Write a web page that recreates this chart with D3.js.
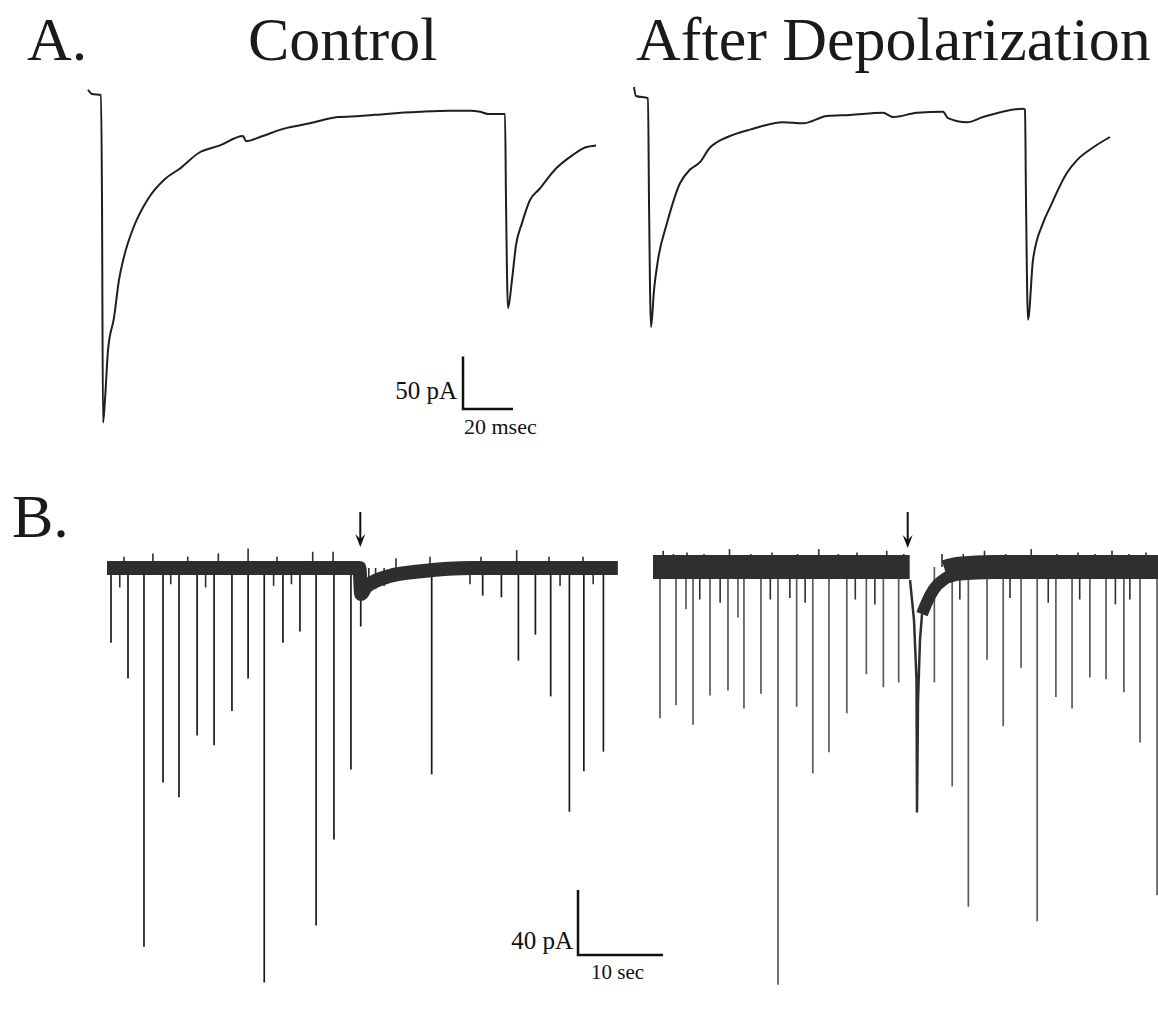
<!DOCTYPE html>
<html><head><meta charset="utf-8">
<script src="https://cdn.jsdelivr.net/npm/d3@7"></script>
<style>html,body{margin:0;padding:0;background:#fff;}svg{display:block;}</style>
</head><body>
<svg id="fig" width="1158" height="1013"></svg>
<script>
// ---------- DATA ----------
// Panel A: evoked currents (time in ms, current in pA relative to holding)
const ctrlA = [[0,5],[1.6,1],[5.2,0],[5.6,-100],[6.0,-312],[6.8,-290],[8,-243],[10.4,-212],[12.4,-176],[14.4,-154],[18.4,-125],[24,-99],[30.8,-80],[36.8,-70],[44.4,-55],[52.8,-48],[62,-39],[63.2,-44],[68.8,-40],[78.4,-32],[88.8,-27],[100,-21],[108.8,-20],[119.2,-18],[132.8,-16],[144.8,-15],[153.2,-15],[156.8,-16],[160,-18],[162.8,-18],[166.8,-18],[167.2,-100],[168,-203],[169.6,-176],[171.2,-143],[173.6,-122],[176.8,-100],[180.4,-90],[187.2,-70],[194,-57],[198.8,-50],[203.2,-48]];
const depA = [[0,7.6],[0.8,-1],[5.6,-3],[6,-100],[6.8,-221],[8,-186],[9.6,-157],[13.2,-122],[18.4,-84],[22.4,-71],[26.4,-64],[30.4,-50],[33.2,-45],[39.6,-38],[46.4,-33],[59.6,-26],[67.6,-27],[77.2,-20],[86.4,-19],[99.6,-17],[103.6,-21],[113.2,-17],[123.6,-16],[125.6,-22],[133.2,-26],[139.6,-21],[155.6,-13],[156.4,-14],[156.8,-100],[157.6,-214],[159.6,-157],[163.6,-122],[166.4,-107],[173.2,-74],[177.2,-62],[183.6,-50],[190.4,-40]];

// Panel B: spontaneous events (time in s, peak current in pA)
const ctrlB_baseline = [[0,0],[29.7,0],[29.9,-16],[30.4,-12],[31.2,-9],[33.2,-5],[37,-2],[43,0],[60.1,0]];
const ctrlB_events = [[0.47,-46],[2.47,-68],[4.35,-233],[6.59,-132],[8.47,-141],[10.6,-103],[12.6,-109],[14.7,-88],[16.6,-68],[18.5,-255],[20.7,-46],[22.7,-39],[24.6,-220],[26.7,-167],[28.7,-124],[29.85,-36],[38.2,-127],[44.2,-17],[46.4,-18],[48.4,-57],[50.4,-41],[52.2,-79],[54.4,-150],[56.1,-125],[58.4,-113]];
const ctrlB_noiseUp = [[2,7],[5.4,9],[9.5,7],[13.1,9],[16.6,12],[20,7],[24.2,10],[26.6,10],[34,6],[38,7],[44,7],[48.2,11],[52,7],[56,7]];
const ctrlB_noiseDown = [[1.5,-12],[7.5,-10],[11.6,-12],[19.6,-11],[21.7,-10],[30.8,-16],[31.6,-13],[32.6,-11],[42.7,-10],[53.3,-11],[57.2,-10]];

const depB_baseline1 = [[0,0],[30.2,0]];
const depB_dip = [[30.24,-8],[30.71,-33],[31.0,-69],[31.06,-151],[31.18,-82],[31.41,-45],[31.65,-29]];
const depB_recovery = [[31.65,-29],[32.2,-22],[33.0,-14],[34.4,-7],[36,-3]];
const depB_baseline2 = [[34.4,-3],[36,-1],[40,0],[60.5,0]];
const depB_events = [[0.82,-93],[2.71,-85],[3.88,-26],[4.71,-97],[6.71,-79],[8.82,-76],[10.0,-31],[10.7,-87],[12.7,-78],[14.7,-257],[16.9,-86],[18.8,-127],[20.7,-114],[22.8,-90],[25.1,-66],[27.1,-74],[28.9,-71],[33.1,-71],[35.2,-135],[37.1,-209],[39.3,-57],[41.2,-98],[43.3,-62],[45.2,-218],[47.4,-80],[49.3,-87],[51.4,-68],[53.3,-69],[55.4,-77],[57.3,-108],[59.3,-202]];
const depB_noiseUp = [[1.2,10],[2.4,8],[4,9],[6,8],[9,11],[11.5,8],[14,9],[17,8],[19.5,11],[21.8,8],[24,9],[27.5,10],[29.5,8],[34,8],[36.5,8],[39,10],[41.5,8],[44.5,11],[47.5,8],[50,9],[52,8],[54,10],[56,8],[58,9]];
const depB_noiseDown = [[5.5,-20],[7.9,-22],[13.8,-20],[16.1,-19],[17.9,-22],[23.8,-20],[26.1,-23],[36.1,-20],[42,-19],[46.5,-22],[50.2,-20],[54.4,-23],[56.1,-20]];

// Titles and scale-bar labels
const titles = ["A.", "Control", "After Depolarization", "B."];
const scaleA = {pA: 50, ms: 20, labelY: "50 pA", labelX: "20 msec"};
const scaleB = {pA: 40, s: 10, labelY: "40 pA", labelX: "10 sec"};

// ---------- DRAW ----------
const svg = d3.select("#fig");
const serif = '"Liberation Serif","Times New Roman",serif';

// Scales
const xAc = d3.scaleLinear().domain([0, 200]).range([88, 588]);
const xAd = d3.scaleLinear().domain([0, 200]).range([634, 1134]);
const yA  = d3.scaleLinear().domain([0, -300]).range([95, 410]);
const xBc = d3.scaleLinear().domain([0, 10]).range([107, 192]);
const xBd = d3.scaleLinear().domain([0, 10]).range([653, 738]);
const yBc = d3.scaleLinear().domain([0, -40]).range([568, 633]);
const yBd = d3.scaleLinear().domain([0, -40]).range([567, 632]);

// Titles
const T = svg.append("g").attr("font-family", serif).attr("fill", "#1a1a1a").attr("font-size", 62);
T.append("text").attr("x", 27).attr("y", 60).text(titles[0]);
T.append("text").attr("x", 248).attr("y", 60).text(titles[1]);
T.append("text").attr("x", 636).attr("y", 60).text(titles[2]);
T.append("text").attr("x", 12).attr("y", 537).text(titles[3]);

// Panel A traces
function traceA(data, x, col){
  svg.append("path").datum(data)
    .attr("d", d3.line().curve(d3.curveMonotoneX).x(d => x(d[0])).y(d => yA(d[1])))
    .attr("fill", "none").attr("stroke", col).attr("stroke-width", 2)
    .attr("stroke-linejoin", "round");
}
traceA(ctrlA, xAc, "#1e1e1e");
traceA(depA, xAd, "#1e1e1e");

// Scale bar A
const ax0 = 463, ay0 = 409;
const aLen = yA(-scaleA.pA) - yA(0);
const aW = xAc(scaleA.ms) - xAc(0);
svg.append("path").attr("d", `M${ax0},${ay0 - aLen}V${ay0}H${ax0 + aW}`)
  .attr("stroke", "#111").attr("stroke-width", 2.5).attr("fill", "none");
svg.append("text").attr("x", ax0 - 6).attr("y", ay0 - 10).attr("text-anchor", "end")
  .attr("font-family", serif).attr("font-size", 25).attr("fill", "#111").text(scaleA.labelY);
svg.append("text").attr("x", ax0 + 1).attr("y", ay0 + 25)
  .attr("font-family", serif).attr("font-size", 22).attr("fill", "#111").text(scaleA.labelX);

// Panel B
function traceB(opts){
  const {x, y, bands, dip, events, up, down, bandCol, spikeCol, spikeW} = opts;
  const g = svg.append("g");
  const ln = d3.line().x(d => x(d[0])).y(d => y(d[1]));
  g.selectAll("line.ev").data(events).join("line")
    .attr("x1", d => x(d[0])).attr("x2", d => x(d[0]))
    .attr("y1", y(0)).attr("y2", d => y(d[1]))
    .attr("stroke", spikeCol).attr("stroke-width", spikeW);
  g.selectAll("line.dn").data(down).join("line")
    .attr("x1", d => x(d[0])).attr("x2", d => x(d[0]))
    .attr("y1", y(0)).attr("y2", d => y(d[1]))
    .attr("stroke", bandCol).attr("stroke-width", 1.6);
  g.selectAll("line.up").data(up).join("line")
    .attr("x1", d => x(d[0])).attr("x2", d => x(d[0]))
    .attr("y1", y(0)).attr("y2", d => y(d[1]))
    .attr("stroke", bandCol).attr("stroke-width", 1.6);
  if (dip) {
    g.append("path").datum(dip).attr("d", ln)
      .attr("fill", "none").attr("stroke", bandCol).attr("stroke-width", 2.5);
  }
  bands.forEach(b => {
    g.append("path").datum(b.data)
      .attr("d", d3.line().curve(d3.curveMonotoneX).x(d => x(d[0])).y(d => y(d[1])))
      .attr("fill", "none").attr("stroke", bandCol).attr("stroke-width", b.w)
      .attr("stroke-linejoin", "round");
  });
}
traceB({x: xBc, y: yBc, bands: [{data: ctrlB_baseline, w: 14}], dip: null, events: ctrlB_events,
  up: ctrlB_noiseUp, down: ctrlB_noiseDown, bandCol: "#2e2e2e", spikeCol: "#1a1a1a", spikeW: 1.7});
traceB({x: xBd, y: yBd,
  bands: [{data: depB_baseline1, w: 24}, {data: depB_recovery, w: 12}, {data: depB_baseline2, w: 24}],
  dip: depB_dip, events: depB_events,
  up: depB_noiseUp, down: depB_noiseDown, bandCol: "#2f2f2f", spikeCol: "#5a5a5a", spikeW: 1.7});

// Arrows marking depolarization
function arrow(xp, y0, y1){
  const g = svg.append("g");
  g.append("line").attr("x1", xp).attr("x2", xp).attr("y1", y0).attr("y2", y1 - 6)
    .attr("stroke", "#111").attr("stroke-width", 2);
  g.append("path").attr("d", `M${xp - 5},${y1 - 13}L${xp},${y1}L${xp + 5},${y1 - 13}L${xp},${y1 - 8}Z`)
    .attr("fill", "#111");
}
arrow(xBc(29.8), 512, 547);
arrow(xBd(30.2) - 2, 512, 548);

// Scale bar B
const bx0 = 578, by0 = 955;
const bLen = yBc(-scaleB.pA) - yBc(0);
const bW = xBc(scaleB.s) - xBc(0);
svg.append("path").attr("d", `M${bx0},${by0 - bLen}V${by0}H${bx0 + bW}`)
  .attr("stroke", "#111").attr("stroke-width", 2.5).attr("fill", "none");
svg.append("text").attr("x", bx0 - 5).attr("y", by0 - 6).attr("text-anchor", "end")
  .attr("font-family", serif).attr("font-size", 25).attr("fill", "#111").text(scaleB.labelY);
svg.append("text").attr("x", bx0 + 13).attr("y", by0 + 24)
  .attr("font-family", serif).attr("font-size", 21).attr("fill", "#111").text(scaleB.labelX);
</script>
</body></html>
